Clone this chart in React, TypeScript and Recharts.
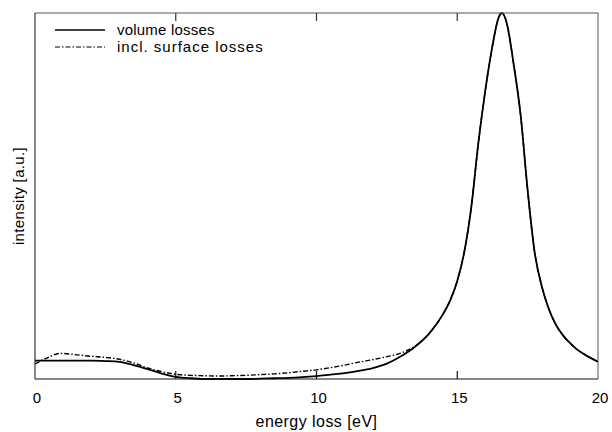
import React from "react";
import { LineChart, Line, XAxis, YAxis, ReferenceLine } from "recharts";

// energy grid (eV) shared by both curves
const ENERGY_EV = [
  0, 0.5, 0.9, 1.5, 2, 2.5, 3, 3.5, 4, 4.5, 5, 5.5, 6, 6.5, 7, 7.5, 8, 8.5, 9,
  9.5, 10, 10.5, 11, 11.5, 12, 12.5, 13, 13.5, 14, 14.5, 14.75, 15, 15.25,
  15.5, 15.75, 16, 16.25, 16.45, 16.58, 16.75, 17, 17.25, 17.5, 17.75, 18,
  18.25, 18.5, 18.75, 19, 19.25, 19.5, 19.75, 20,
];

// volume losses (a.u.)
const VOLUME_LOSSES = [
  0.05, 0.05, 0.05, 0.05, 0.05, 0.049, 0.047, 0.038, 0.027, 0.015, 0.006,
  0.002, 0.0, 0.0, 0.0, 0.0, 0.001, 0.002, 0.003, 0.005, 0.008, 0.012, 0.016,
  0.022, 0.03, 0.042, 0.062, 0.088, 0.124, 0.178, 0.215, 0.268, 0.347, 0.47,
  0.645, 0.79, 0.91, 0.983, 1.0, 0.975, 0.862, 0.722, 0.516, 0.346, 0.254,
  0.192, 0.149, 0.12, 0.0985, 0.081, 0.068, 0.057, 0.047,
];

// incl. surface losses (a.u.)
const SURFACE_LOSSES = [
  0.041, 0.06, 0.07, 0.066, 0.062, 0.059, 0.054, 0.044, 0.03, 0.02, 0.013,
  0.01, 0.009, 0.008, 0.009, 0.01, 0.012, 0.014, 0.017, 0.021, 0.025, 0.031,
  0.038, 0.046, 0.053, 0.061, 0.071, 0.09, 0.124, 0.178, 0.215, 0.268, 0.347,
  0.47, 0.645, 0.79, 0.91, 0.983, 1.0, 0.975, 0.862, 0.722, 0.516, 0.346,
  0.254, 0.192, 0.149, 0.12, 0.0985, 0.081, 0.068, 0.057, 0.047,
];

const X_TICKS = [0, 5, 10, 15, 20];
const INNER_TICKS = [5, 10, 15];

const SERIES = [
  { key: "surface", name: "incl. surface losses", dash: "5 2 1.5 2", width: 1.4 },
  { key: "volume", name: "volume losses", dash: undefined, width: 1.8 },
];

const FONT = "'Liberation Sans', Arial, Helvetica, sans-serif";
const TICK_LEN = 8;

const data = ENERGY_EV.map((energy, i) => ({
  energy,
  volume: VOLUME_LOSSES[i],
  surface: SURFACE_LOSSES[i],
}));

// short inward tick marks at both ends of a vertical reference line
const TickMarks = (props: any) => {
  const { x1, y1, y2 } = props;
  const top = Math.min(y1, y2);
  const bottom = Math.max(y1, y2);
  return (
    <g>
      <path d={`M${x1},${top}V${top + TICK_LEN}`} stroke="#333" strokeWidth={1.2} fill="none" />
      <path d={`M${x1},${bottom}V${bottom - TICK_LEN}`} stroke="#111" strokeWidth={1.2} fill="none" />
    </g>
  );
};

export default function App() {
  const legendRows = [SERIES[1], SERIES[0]];

  return (
    <div
      style={{
        position: "absolute",
        left: 0,
        top: 0,
        width: 612,
        height: 432,
        background: "#fff",
        fontFamily: FONT,
      }}
    >
      <LineChart
        width={612}
        height={432}
        data={data}
        margin={{ top: 12, right: 13, bottom: 0, left: 0 }}
      >
        <XAxis
          xAxisId="bottom"
          dataKey="energy"
          type="number"
          domain={[0, 20]}
          ticks={X_TICKS}
          interval={0}
          height={53}
          tickSize={0}
          tickLine={false}
          tickMargin={13}
          stroke="#111"
          tick={{ fontSize: 15, fontFamily: FONT, fill: "#000", dx: 2 }}
          label={{
            value: "energy loss [eV]",
            position: "insideBottom",
            offset: 5,
            fontSize: 16,
            fontFamily: FONT,
            fill: "#000",
            style: { letterSpacing: "0.45px" },
          }}
        />
        <XAxis
          xAxisId="top"
          orientation="top"
          dataKey="energy"
          type="number"
          domain={[0, 20]}
          height={1}
          tick={false}
          tickLine={false}
          stroke="#555"
        />
        <YAxis
          yAxisId="left"
          type="number"
          domain={[0, 1]}
          width={35}
          tick={false}
          tickLine={false}
          stroke="#111"
        />
        <YAxis
          yAxisId="right"
          orientation="right"
          type="number"
          domain={[0, 1]}
          width={1}
          tick={false}
          tickLine={false}
          stroke="#555"
        />
        {INNER_TICKS.map((t) => (
          <ReferenceLine
            key={`tick-${t}`}
            xAxisId="bottom"
            yAxisId="left"
            x={t}
            shape={<TickMarks />}
          />
        ))}
        {SERIES.map((s) => (
          <Line
            key={s.key}
            xAxisId="bottom"
            yAxisId="left"
            type="monotone"
            dataKey={s.key}
            name={s.name}
            stroke="#000"
            strokeWidth={s.width}
            strokeDasharray={s.dash}
            dot={false}
            activeDot={false}
            isAnimationActive={false}
          />
        ))}
      </LineChart>

      <div
        style={{
          position: "absolute",
          left: 18,
          top: 196,
          transform: "translate(-50%, -50%) rotate(-90deg)",
          fontSize: 15,
          letterSpacing: "0.35px",
          whiteSpace: "nowrap",
          lineHeight: "15px",
          color: "#000",
        }}
      >
        intensity [a.u.]
      </div>

      {legendRows.map((s, i) => (
        <div
          key={`legend-${s.key}`}
          style={{
            position: "absolute",
            left: 54,
            top: 22 + i * 17,
            height: 15,
            display: "flex",
            alignItems: "center",
          }}
        >
          <svg width={52} height={15} style={{ display: "block" }}>
            <line
              x1={1}
              x2={51}
              y1={8}
              y2={8}
              stroke="#000"
              strokeWidth={s.width - 0.3}
              strokeDasharray={s.dash}
            />
          </svg>
          <span
            style={{
              marginLeft: 11,
              fontSize: 15,
              lineHeight: "15px",
              whiteSpace: "nowrap",
              letterSpacing: i === 1 ? "1px" : "0.2px",
              color: "#000",
            }}
          >
            {s.name}
          </span>
        </div>
      ))}
    </div>
  );
}
